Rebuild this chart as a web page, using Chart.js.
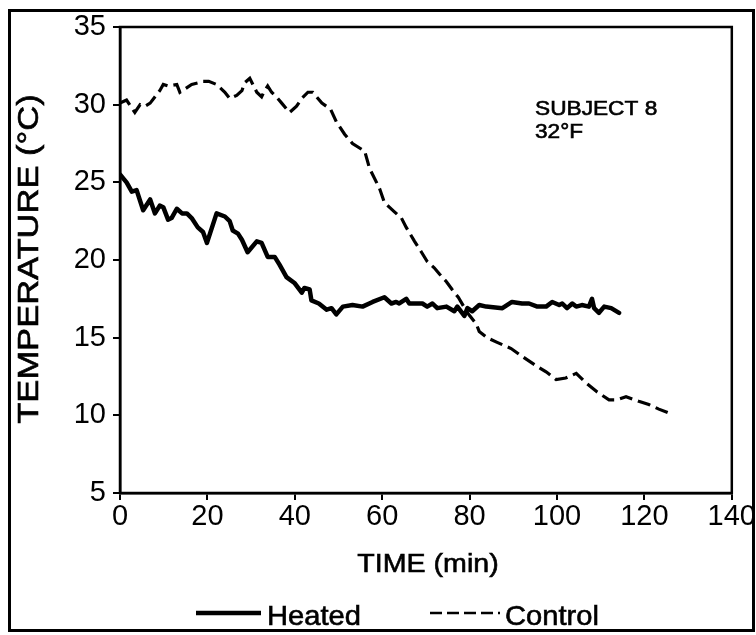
<!DOCTYPE html>
<html>
<head>
<meta charset="utf-8">
<script src="https://cdn.jsdelivr.net/npm/chart.js@4.4.1/dist/chart.umd.min.js"></script>
<style>
  html, body { margin: 0; padding: 0; background: #fff; }
  #wrap { width: 756px; height: 635px; }
</style>
</head>
<body>
<div id="wrap"><canvas id="chart" width="756" height="635"></canvas></div>
<script>
// Skin temperature, subject 8 at 32°F
const heatedTime = [0, 1.5, 2.7, 3.8, 5.3, 6.9, 8.0, 9.1, 9.9, 11.0, 11.8, 13.0, 14.2, 15.3, 16.4, 17.8, 19.0, 19.9,
  22.1, 24.0, 25.1, 25.8, 27.0, 27.9, 29.2, 31.3, 32.4, 33.8, 35.4, 36.5, 38.1, 40.0, 41.6, 42.2, 43.4, 43.8,
  45.5, 47.3, 48.4, 49.5, 51.0, 53.2, 55.5, 57.8, 60.5, 62.1, 63.2, 63.9, 65.5, 66.2, 69.2, 70.3, 71.5, 72.6,
  74.7, 76.5, 77.2, 78.8, 79.5, 80.6, 82.2, 83.8, 87.5, 89.7, 92.0, 93.6, 95.5, 97.5, 98.9, 100.5, 101.2,
  102.3, 103.5, 104.4, 105.7, 107.3, 108.0, 108.5, 109.6, 110.8, 112.4, 114.2];
const heatedTemp = [25.5, 25.0, 24.4, 24.5, 23.2, 23.9, 23.0, 23.5, 23.4, 22.6, 22.7, 23.3, 23.0, 23.0, 22.7, 22.1, 21.8, 21.1,
  23.0, 22.8, 22.5, 21.9, 21.7, 21.3, 20.5, 21.2, 21.1, 20.2, 20.2, 19.7, 18.9, 18.5, 17.9, 18.2, 18.1, 17.4,
  17.2, 16.8, 16.9, 16.5, 17.0, 17.1, 17.0, 17.3, 17.6, 17.2, 17.3, 17.2, 17.5, 17.2, 17.2, 17.0, 17.2, 16.9,
  17.0, 16.7, 17.0, 16.4, 16.9, 16.7, 17.1, 17.0, 16.9, 17.3, 17.2, 17.2, 17.0, 17.0, 17.3, 17.1, 17.2,
  16.9, 17.2, 17.0, 17.1, 17.0, 17.5, 16.9, 16.6, 17.0, 16.9, 16.6];

const controlTime = [0, 1.5, 3.4, 4.6, 5.7, 6.9, 9.1, 9.9, 11.0, 13.0, 13.7, 16.4, 17.8, 18.7, 20.3, 22.1, 24.0,
  25.1, 26.7, 27.9, 28.5, 29.7, 30.4, 31.3, 32.4, 32.9, 33.8, 34.7, 35.8, 37.0, 38.8, 40.4, 41.6, 43.0, 44.1,
  46.2, 48.2, 49.5, 51.4, 53.2, 56.0, 57.1, 59.4, 60.5, 62.8, 64.4, 65.5, 67.4, 69.0, 70.3, 71.9, 73.1, 74.7,
  76.0, 77.4, 79.5, 81.5, 82.2, 84.0, 86.3, 89.5, 92.0, 95.2, 97.5, 99.8, 102.0, 104.4, 106.6, 109.2, 111.9,
  113.7, 115.8, 118.7, 121.0, 123.3, 126.0];
const controlTemp = [30.1, 30.3, 29.5, 30.0, 29.9, 30.1, 30.9, 31.3, 31.2, 31.3, 30.8, 31.3, 31.4, 31.5, 31.5, 31.3, 30.8,
  30.4, 30.6, 30.9, 31.4, 31.7, 31.3, 30.8, 30.5, 30.8, 31.2, 30.8, 30.5, 30.1, 29.5, 29.9, 30.4, 30.8, 30.8,
  30.1, 29.7, 28.9, 28.1, 27.5, 27.0, 25.9, 24.6, 23.7, 23.1, 22.7, 22.1, 21.2, 20.5, 19.9, 19.5, 19.1, 18.6,
  18.1, 17.6, 16.6, 15.9, 15.4, 15.0, 14.7, 14.3, 13.8, 13.2, 12.8, 12.3, 12.4, 12.7, 12.1, 11.5, 11.0,
  11.0, 11.2, 10.9, 10.7, 10.4, 10.1];

const xTicks = [0, 20, 40, 60, 80, 100, 120, 140];
const yTicks = [5, 10, 15, 20, 25, 30, 35];
const seriesNames = ['Heated', 'Control'];
const noteLines = ['SUBJECT 8', '32°F'];

const FONT = '"Liberation Sans", Arial, Helvetica, sans-serif';

function pairs(xs, ys) {
  return xs.map((x, i) => ({ x: x, y: ys[i] }));
}

// text a bit wider than the font, as in the scanned original
function wideText(c, str, x, y, size, stretch, angle) {
  c.save();
  c.translate(x, y);
  if (angle) c.rotate(angle);
  c.scale(stretch, 1);
  c.font = size + 'px ' + FONT;
  c.lineWidth = 0.6;
  c.fillText(str, 0, 0);
  c.strokeText(str, 0, 0);
  c.restore();
}

// frame, box, titles, legend and note are drawn by hand
const decorations = {
  id: 'decorations',
  beforeDraw(chart) {
    const c = chart.ctx;
    c.save();
    c.fillStyle = '#fff';
    c.fillRect(0, 0, chart.width, chart.height);
    c.restore();
  },
  afterDraw(chart) {
    const c = chart.ctx;
    const a = chart.chartArea;
    c.save();
    c.strokeStyle = '#000';
    c.fillStyle = '#000';

    // outer frame
    c.lineWidth = 3;
    c.strokeRect(9.5, 10.5, 744, 620);

    // plot box
    c.lineWidth = 2.5;
    c.strokeRect(a.left, a.top, a.right - a.left, a.bottom - a.top);

    // axis titles
    c.textAlign = 'center';
    c.textBaseline = 'middle';
    wideText(c, 'TIME (min)', 428, 565, 26, 1.1, 0);
    wideText(c, 'TEMPERATURE (°C)', 30, 259, 30, 1.15, -Math.PI / 2);

    // note
    c.textAlign = 'left';
    c.textBaseline = 'alphabetic';
    wideText(c, noteLines[0], 535, 115, 21, 1.08, 0);
    wideText(c, noteLines[1], 535, 138, 21, 1.08, 0);

    // legend
    c.lineWidth = 4.5;
    c.beginPath();
    c.moveTo(196, 613);
    c.lineTo(261, 613);
    c.stroke();
    c.lineWidth = 2.5;
    c.setLineDash([12, 5]);
    c.beginPath();
    c.moveTo(430, 613);
    c.lineTo(500, 613);
    c.stroke();
    c.setLineDash([]);
    c.textBaseline = 'alphabetic';
    wideText(c, seriesNames[0], 267, 625, 28, 1.04, 0);
    wideText(c, seriesNames[1], 505, 625, 28, 1.04, 0);
    c.restore();
  }
};

new Chart(document.getElementById('chart'), {
  type: 'line',
  data: {
    datasets: [
      {
        label: seriesNames[0],
        data: pairs(heatedTime, heatedTemp),
        borderColor: '#000',
        borderWidth: 4.5,
        pointRadius: 0,
        tension: 0,
        borderJoinStyle: 'round',
        borderCapStyle: 'round',
      },
      {
        label: seriesNames[1],
        data: pairs(controlTime, controlTemp),
        borderColor: '#000',
        borderWidth: 3.2,
        borderDash: [13, 6],
        pointRadius: 0,
        tension: 0,
      },
    ],
  },
  options: {
    responsive: false,
    animation: false,
    devicePixelRatio: 1,
    layout: { padding: { left: 0, top: 27, right: 23, bottom: 0 } },
    plugins: {
      legend: { display: false },
      tooltip: { enabled: false },
    },
    scales: {
      x: {
        type: 'linear',
        min: 0,
        max: 140,
        afterFit: (s) => { s.height = 142; },
        afterBuildTicks: (s) => { s.ticks = xTicks.map((v) => ({ value: v })); },
        ticks: { color: '#000', font: { family: FONT, size: 29 }, padding: 0, maxRotation: 0 },
        grid: { drawOnChartArea: false, color: '#000', lineWidth: 2, tickLength: 7 },
        border: { color: '#000', width: 2.5 },
      },
      y: {
        min: 5,
        max: 35,
        afterFit: (s) => { s.width = 120; },
        afterBuildTicks: (s) => { s.ticks = yTicks.map((v) => ({ value: v })); },
        ticks: { color: '#000', font: { family: FONT, size: 29 }, padding: 7 },
        grid: { drawOnChartArea: false, color: '#000', lineWidth: 2, tickLength: 7 },
        border: { color: '#000', width: 2.5 },
      },
    },
  },
  plugins: [decorations],
});
</script>
</body>
</html>
